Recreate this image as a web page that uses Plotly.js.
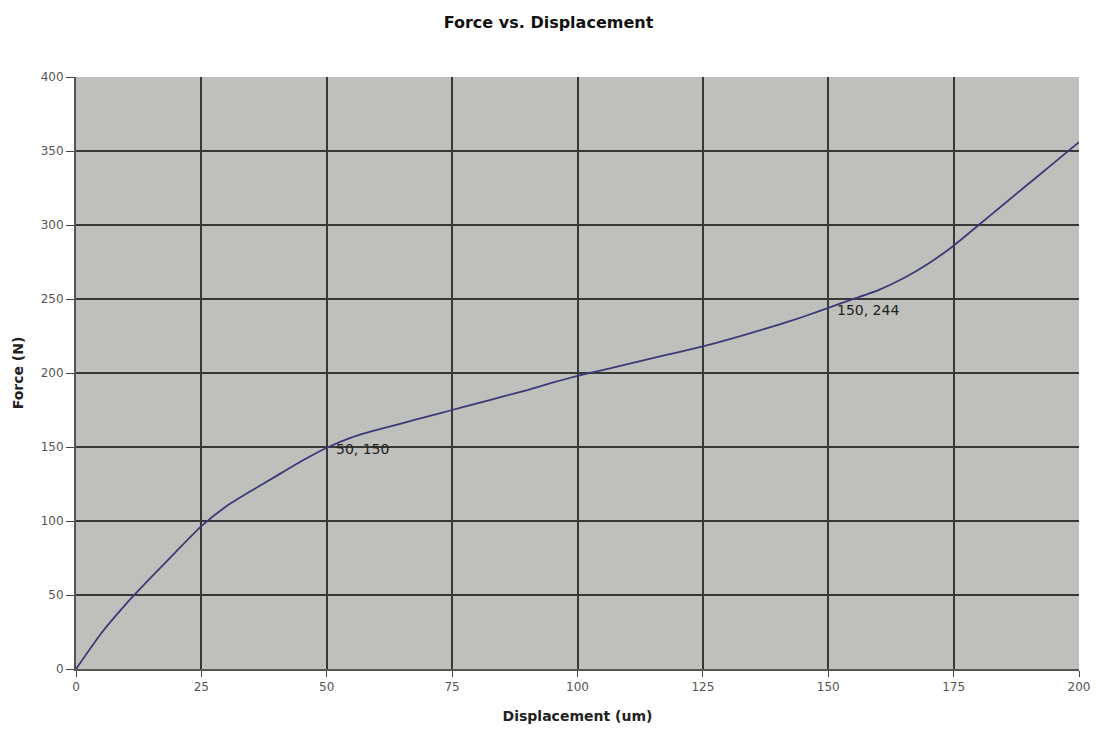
<!DOCTYPE html>
<html>
<head>
<meta charset="utf-8">
<script src="https://cdn.plot.ly/plotly-3.0.1.min.js"></script>
<style>html,body{margin:0;padding:0;background:#fff;}#chart{width:1097px;height:731px;}</style>
</head>
<body>
<div id="chart"></div>
<script>
// Displacement (um)
const displacement = [0, 5, 10, 15, 20, 25, 30, 35, 40, 45, 50, 55, 60, 65, 70, 75, 80, 85, 90, 95, 100, 105, 110, 115, 120, 125, 130, 135, 140, 145, 150, 155, 160, 165, 170, 175, 180, 185, 190, 195, 200];
// Force (N)
const force = [0, 24, 44, 62, 79.5, 96.5, 110, 120.5, 130.5, 140.5, 149.5, 156.5, 161.5, 166, 170.5, 175, 179.5, 184, 188.5, 193.5, 198, 202, 206, 210, 214, 218, 222.5, 227.5, 232.5, 238, 244, 250, 256, 264, 274, 286, 300, 314, 328, 342, 356];
const labelPoints = [[50, 150], [150, 244]];
const xTicks = [0, 25, 50, 75, 100, 125, 150, 175, 200];
const yTicks = [0, 50, 100, 150, 200, 250, 300, 350, 400];

const FONT = 'DejaVu Sans, Arial, sans-serif';

const trace = {
  x: displacement, y: force, type: 'scatter', mode: 'lines',
  line: {color: '#3b3a78', width: 1.8, shape: 'spline', smoothing: 0.5},
  hoverinfo: 'x+y', showlegend: false
};

const annotations = labelPoints.map(p => ({
  x: p[0], y: p[1], text: p[0] + ', ' + p[1], showarrow: false,
  xanchor: 'left', yanchor: 'middle', xshift: 7, yshift: -2,
  font: {family: FONT, size: 14, color: '#222'}
}));

const layout = {
  width: 1097, height: 731,
  margin: {l: 76, r: 18, t: 77, b: 62},
  paper_bgcolor: '#ffffff', plot_bgcolor: '#bfc0bc',
  title: {text: '<b>Force vs. Displacement</b>', x: 0.5, xanchor: 'center', y: 0.97, yanchor: 'middle',
    font: {family: FONT, size: 16, color: '#111'}},
  xaxis: {
    range: [0, 200], tickvals: xTicks, ticktext: xTicks.map(String),
    showgrid: true, gridcolor: '#383838', gridwidth: 2,
    zeroline: false, showline: true, linecolor: '#555', linewidth: 2,
    ticks: 'outside', ticklen: 6, tickcolor: '#444', tickwidth: 1,
    tickfont: {family: FONT, size: 12, color: '#555'},
    title: {text: '<b>Displacement (um)</b>', standoff: 18,
      font: {family: FONT, size: 14, color: '#222'}}
  },
  yaxis: {
    range: [0, 400], tickvals: yTicks, ticktext: yTicks.map(String),
    showgrid: true, gridcolor: '#383838', gridwidth: 2,
    zeroline: false, showline: true, linecolor: '#555', linewidth: 2,
    ticks: 'outside', ticklen: 8, tickcolor: '#444', tickwidth: 1,
    tickfont: {family: FONT, size: 12, color: '#555'},
    title: {text: '<b>Force (N)</b>', standoff: 14,
      font: {family: FONT, size: 14, color: '#222'}}
  },
  annotations: annotations
};

Plotly.newPlot('chart', [trace], layout, {displayModeBar: false, staticPlot: true});
</script>
</body>
</html>
